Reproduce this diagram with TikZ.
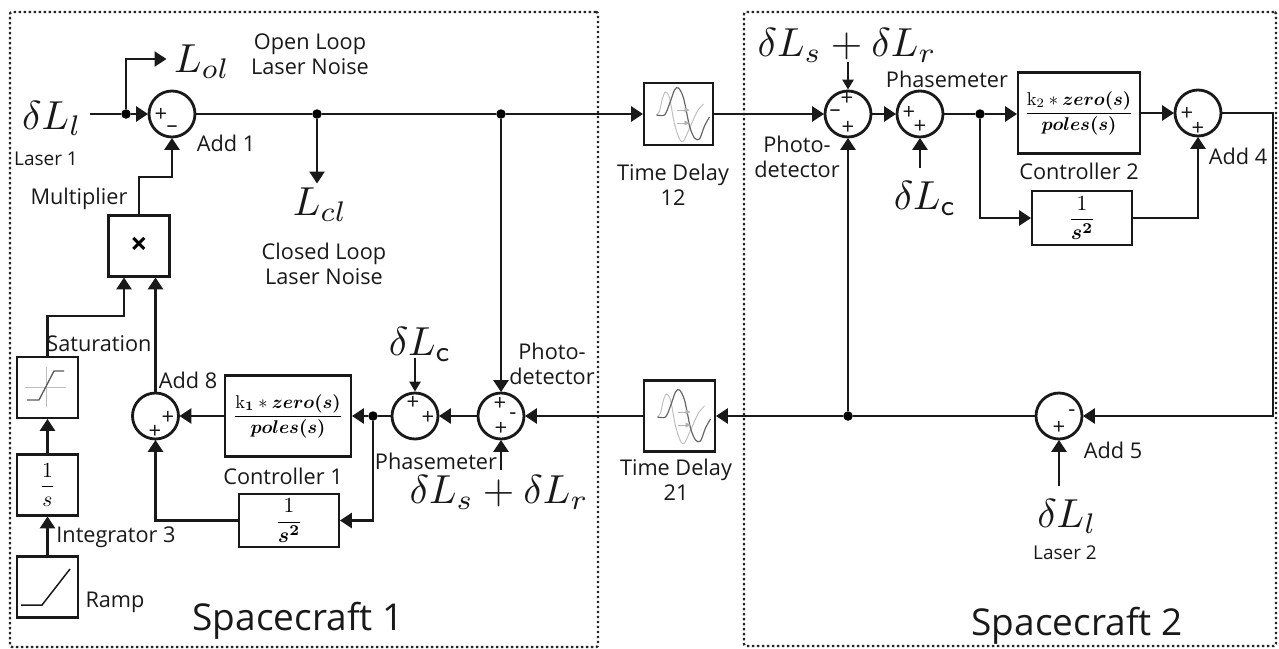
\documentclass[tikz,border=0pt]{standalone}
\usepackage{amsmath}
\usepackage{bm}
\usepackage[no-math]{fontspec}
\setmainfont{Open Sans}
\usetikzlibrary{arrows.meta}
\newcommand{\symb}[1]{\scalebox{4.05}{$#1$}}
\newcommand{\frx}[1]{\scalebox{1.85}{$\displaystyle #1$}}
\newcommand{\fry}[1]{\scalebox{2.15}{$\displaystyle #1$}}
\tikzset{
  x=1pt,y=-1pt,
  wire/.style={line width=2.8pt,draw=black!90},
  arr/.style={wire,-{Triangle[length=12pt,width=15pt]},shorten >=-0.5pt},
  tinyarr/.style={wire,-{Triangle[length=10pt,width=11pt]}},
  blk/.style={draw=black!90,line width=2.8pt,rectangle,inner sep=0pt},
  sumn/.style={draw=black!90,line width=2.8pt,circle,minimum size=46pt,inner sep=0pt},
  dotn/.style={fill=black,circle,minimum size=9.5pt,inner sep=0pt},
  lab/.style={align=center,inner sep=0pt,font=\fontsize{21.7}{25}\selectfont,text=black!90},
  smalllab/.style={lab,font=\fontsize{19}{22}\selectfont},
  biglab/.style={lab,font=\fontsize{37}{40}\selectfont},
  mathlab/.style={inner sep=0pt,text=black!90},
  sgn/.style={inner sep=0pt,font=\fontsize{22}{22}\selectfont,text=black!90},
  frame/.style={draw=black!85,line width=2.4pt,dash pattern=on 2.4pt off 2.6pt,rectangle,rounded corners=2pt,inner sep=0pt},
  delayicon/.pic={
    \draw[black!25,line width=1pt] plot[smooth] coordinates {(-22,1) (-19,-3) (-16,-16) (-13,-22) (-9,-16) (-4,10) (1,25) (5,27) (12,12) (19,-3) (25,-10)};
    \draw[black!60,line width=1.2pt] plot[smooth] coordinates {(-22,1) (-14,1) (-9,-10) (-4,-24) (0,-26) (5,-16) (11,12) (16,24) (21,25) (26,12) (31,3)};
    \draw[black!30,line width=.8pt,-{Triangle[length=5pt,width=5pt]}] (-2,-4) -- (11,-4);
    \draw[black!30,line width=.8pt,-{Triangle[length=5pt,width=5pt]}] (-2,9) -- (11,9);
  }
}
\begin{document}
\begin{tikzpicture}
\useasboundingbox (0,0) rectangle (1279,648);
% spacecraft frames
\node[frame,minimum width=588pt,minimum height=635pt] (sc1) at (304,329.5) {};
\node[frame,minimum width=532pt,minimum height=634pt] (sc2) at (1010,329) {};
% blocks
\node[sumn] (add1) at (172,114) {};
\node[blk,minimum width=61pt,minimum height=61pt,font=\bfseries\fontsize{30}{30}\selectfont] (mult) at (139,246) {×};
\node[blk,minimum width=61pt,minimum height=61pt] (sat) at (47.5,387.5) {};
\node[blk,minimum width=61pt,minimum height=61pt] (integ) at (47.5,485) {\fry{\frac{1}{s}}};
\node[blk,minimum width=61pt,minimum height=61pt] (ramp) at (47.5,587) {};
\node[sumn] (add8) at (155.5,416) {};
\node[blk,minimum width=126pt,minimum height=81pt] (ctrl1) at (288,416) {\frx{\frac{\mathrm{k}_{\mathbf{1}}*\bm{zero(s)}}{\bm{poles(s)}}}};
\node[blk,minimum width=100pt,minimum height=53pt] (dbl1) at (289,520.5) {\fry{\frac{1}{\bm{s^2}}}};
\node[sumn] (pm1) at (415,416) {};
\node[sumn] (pd1) at (501,416) {};
\node[blk,minimum width=71pt,minimum height=71pt] (td21) at (679.5,416) {};
\node[blk,minimum width=69pt,minimum height=62pt] (td12) at (678.5,114) {};
\node[sumn] (pd2) at (848,114) {};
\node[sumn] (pm2) at (920,114) {};
\node[blk,minimum width=122pt,minimum height=81pt] (ctrl2) at (1079,113) {\frx{\frac{\mathrm{k}_{2}*\bm{zero(s)}}{\bm{poles(s)}}}};
\node[blk,minimum width=100pt,minimum height=54pt] (dbl2) at (1082,218) {\fry{\frac{1}{\bm{s^2}}}};
\node[sumn] (add4) at (1198,113) {};
\node[sumn] (add5) at (1059,416) {};
% icons
\pic at (td21.center) {delayicon};
\pic at (td12.center) {delayicon};
\draw[black!25,line width=1pt] (25,387) -- (66,387) (46,367) -- (46,407);
\draw[black!65,line width=1.3pt] (27,400) -- (39,400) -- (54,371) -- (64,371);
\draw[black!90,line width=1.5pt] (21,605) -- (42,605) -- (70,569);
% junctions
\node[dotn] (j1) at (126,114) {};
\node[dotn] (j2) at (317,114) {};
\node[dotn] (j3) at (501,114) {};
\node[dotn] (j4) at (373,416) {};
\node[dotn] (j5) at (848,416) {};
\node[dotn] (j6) at (980,114) {};
% free ends
\coordinate (inl) at (90,114);
\coordinate (ol) at (166,59);
\coordinate (cl) at (317,183);
\coordinate (dlc1) at (415,358);
\coordinate (dls1) at (501,470);
\coordinate (dls2) at (848,62);
\coordinate (dlc2) at (920,168);
\coordinate (dll2) at (1059,486);
% math labels
\node[mathlab] (sl1) at (52,118) {\symb{\delta L_{l}}};
\node[mathlab] (lol) at (202,62) {\symb{L_{ol}}};
\node[mathlab] (lcl) at (320,205) {\symb{L_{cl}}};
\node[mathlab] (sc1m) at (420,344) {\symb{\delta L_{\mathsf{c}}}};
\node[mathlab] (ssr1) at (499,492) {\symb{\delta L_{s}+\delta L_{r}}};
\node[mathlab] (ssr2) at (847,45) {\symb{\delta L_{s}+\delta L_{r}}};
\node[mathlab] (sc2m) at (925,198) {\symb{\delta L_{\mathsf{c}}}};
\node[mathlab] (sl2) at (1067,516) {\symb{\delta L_{l}}};
% text labels
\node[smalllab] (t1) at (46,159) {Laser 1};
\node[smalllab] (t2) at (1065,553) {Laser 2};
\node[lab] (t3) at (310,54.5) {Open Loop\\Laser Noise};
\node[lab] (t4) at (324,263.5) {Closed Loop\\Laser Noise};
\node[lab] (t5) at (226,143) {Add 1};
\node[lab] (t6) at (79,199) {Multiplier};
\node[lab] (t7) at (99,344) {Saturation};
\node[lab] (t8) at (188,380) {Add 8};
\node[lab] (t9) at (283,476) {Controller 1};
\node[lab] (t10) at (116,537) {Integrator 3};
\node[lab] (t11) at (115,602) {Ramp};
\node[lab] (t12) at (436,461) {Phasemeter};
\node[lab] (t13) at (552,364) {Photo-\\detector};
\node[lab] (t14) at (676,480) {Time Delay\\21};
\node[lab] (t15) at (673,184.5) {Time Delay\\12};
\node[lab] (t16) at (797,157) {Photo-\\detector};
\node[lab] (t17) at (947,79) {Phasemeter};
\node[lab] (t18) at (1079,171) {Controller 2};
\node[lab] (t19) at (1238,156) {Add 4};
\node[lab] (t20) at (1113,450) {Add 5};
\node[biglab] (t21) at (298,621) {Spacecraft 1};
\node[biglab] (t22) at (1077,626) {Spacecraft 2};
% signs
\node[sgn] (s1) at (161,115) {+};
\node[sgn] (s2) at (172,129) {–};
\node[sgn] (s3) at (168,418) {+};
\node[sgn] (s4) at (155,432) {+};
\node[sgn] (s5) at (413,403) {+};
\node[sgn] (s6) at (428,418) {+};
\node[sgn] (s7) at (500,404) {+};
\node[sgn] (s8) at (513,416) {-};
\node[sgn] (s9) at (501,429) {+};
\node[sgn] (s10) at (847,99) {+};
\node[sgn] (s11) at (835,113) {–};
\node[sgn] (s12) at (848,128) {+};
\node[sgn] (s13) at (909,113) {+};
\node[sgn] (s14) at (920,127) {+};
\node[sgn] (s15) at (1187,114) {+};
\node[sgn] (s16) at (1198,129) {+};
\node[sgn] (s17) at (1072,413) {-};
\node[sgn] (s18) at (1059,428) {+};
% connectors, spacecraft 1
\draw[wire] (inl) -- (j1);
\draw[arr] (j1) -- (add1.west);
\draw[arr] (j1) |- (ol);
\draw[wire] (add1.east) -- (j2);
\draw[wire] (j2) -- (j3);
\draw[arr] (j2) -- (cl);
\draw[arr] (j3) -- (td12.west);
\draw[arr] (j3) -- (pd1.north);
\draw[arr] (mult.north) |- (add1.south |- 0,177) -- (add1.south);
\draw[arr] (sat.north) |- (124,316) -- (mult.south -| 124,0);
\draw[arr] (add8.north) -- (add8.north |- mult.south);
\draw[arr] (integ.north) -- (sat.south);
\draw[arr] (ramp.north) -- (integ.south);
\draw[arr] (ctrl1.west) -- (add8.east);
\draw[wire] (pm1.west) -- (j4);
\draw[arr] (j4) -- (ctrl1.east);
\draw[arr] (j4) |- (dbl1.east);
\draw[arr] (dbl1.west) -| (add8.south);
\draw[arr] (pd1.west) -- (pm1.east);
\draw[tinyarr] (dlc1) -- (pm1.north);
\draw[arr] (dls1) -- (pd1.south);
\draw[arr] (td21.west) -- (pd1.east);
% connectors, spacecraft 2
\draw[arr] (td12.east) -- (pd2.west);
\draw[tinyarr] (dls2) -- (pd2.north);
\draw[arr] (pd2.east) -- (pm2.west);
\draw[arr] (dlc2) -- (pm2.south);
\draw[wire] (pm2.east) -- (j6);
\draw[arr] (j6) -- (ctrl2.west |- j6);
\draw[arr] (j6) |- (dbl2.west);
\draw[arr] (ctrl2.east) -- (add4.west);
\draw[arr] (dbl2.east) -| (add4.south);
\draw[arr] (add4.east) -- (1273,113) |- (add5.east);
\draw[wire] (add5.west) -- (j5);
\draw[arr] (j5) -- (td21.east);
\draw[arr] (j5) -- (pd2.south);
\draw[arr] (dll2) -- (add5.south);
\end{tikzpicture}
\end{document}
